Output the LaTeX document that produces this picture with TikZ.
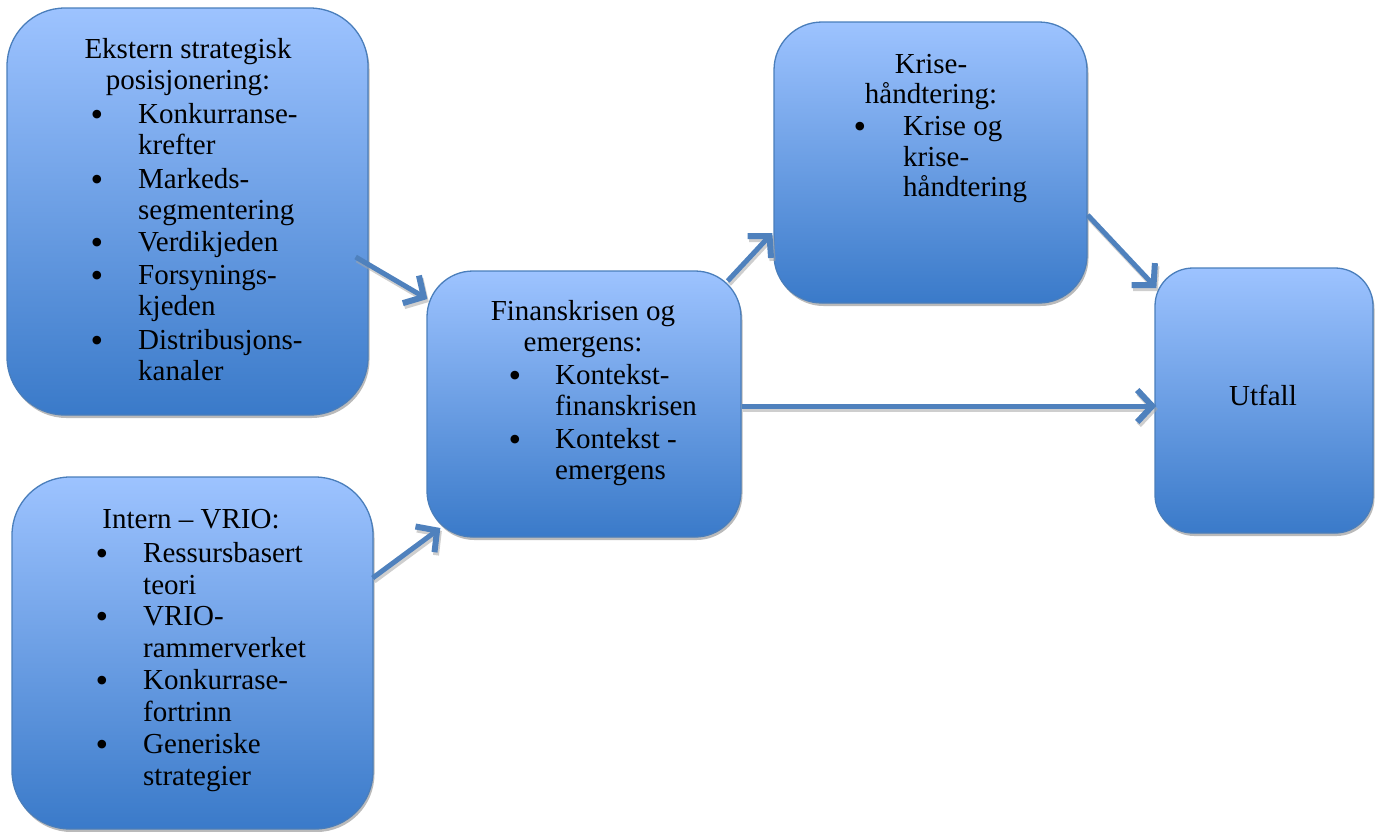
\documentclass[tikz,border=0pt]{standalone}
\usepackage{fontspec}
\setmainfont{Liberation Serif}
\usetikzlibrary{arrows.meta,shadows}
\definecolor{boxtop}{RGB}{157,195,255}
\definecolor{boxbot}{RGB}{58,122,201}
\definecolor{boxline}{RGB}{74,126,187}
\definecolor{conncol}{RGB}{79,129,189}
\begin{document}
\begin{tikzpicture}[x={(1pt,0pt)}, y={(0pt,-1pt)},
  panel/.style={draw=boxline, line width=1.3pt, top color=boxtop, bottom color=boxbot,
    inner sep=0pt, drop shadow={shadow xshift=1.5pt, shadow yshift=-3pt, fill=black!45, opacity=.6}},
  txt/.style={inner sep=0pt, font=\fontsize{29}{32}\selectfont},
  title/.style={txt, anchor=mid},
  item/.style={txt, anchor=mid west},
  bul/.style={inner sep=0pt, anchor=center, font=\fontsize{36}{36}\selectfont},
  conn/.style={draw=conncol, line width=5pt, -{Straight Barb[length=15pt,width=32pt,line width=6pt]}},
  connsh/.style={conn, draw=black!35, opacity=.55, transform canvas={xshift=1.5pt,yshift=-3pt}}]
\useasboundingbox (0,0) rectangle (1380,831);

% boxes
\node[panel, minimum width=361pt, minimum height=407pt, rounded corners=58pt] (A) at (187.5,211.5) {};
\node[panel, minimum width=361pt, minimum height=352pt, rounded corners=58pt] (B) at (192.5,653) {};
\node[panel, minimum width=314pt, minimum height=266pt, rounded corners=46pt] (C) at (584,404) {};
\node[panel, minimum width=313pt, minimum height=281pt, rounded corners=48pt] (D) at (930.5,162.5) {};
\node[panel, minimum width=218pt, minimum height=265pt, rounded corners=38pt] (E) at (1264,400.5) {};

% connector shadows
\draw[connsh] ([shift={(-13,45.5)}]A.east) -- ([shift={(1,-105)}]C.west);
\draw[connsh] ([shift={(-1,-75)}]B.east) -- ([shift={(14,124)}]C.west);
\draw[connsh] ([shift={(-14,-123)}]C.east) -- ([shift={(-1,70.5)}]D.west);
\draw[connsh] ([shift={(0,52.5)}]D.east) -- ([shift={(2,-112.5)}]E.west);
\draw[connsh] ([shift={(0,2)}]C.east) -- ([shift={(2,5.5)}]E.west);
% connectors
\draw[conn] ([shift={(-13,45.5)}]A.east) -- ([shift={(1,-105)}]C.west);
\draw[conn] ([shift={(-1,-75)}]B.east) -- ([shift={(14,124)}]C.west);
\draw[conn] ([shift={(-14,-123)}]C.east) -- ([shift={(-1,70.5)}]D.west);
\draw[conn] ([shift={(0,52.5)}]D.east) -- ([shift={(2,-112.5)}]E.west);
\draw[conn] ([shift={(0,2)}]C.east) -- ([shift={(2,5.5)}]E.west);

\begin{scope}[shift={(0,4)}]
% texts: external positioning
\node[title] (at1) at (188,52) {Ekstern strategisk};
\node[title] (at2) at (188,83) {posisjonering:};
\node[bul] (ab1) at (97,114) {•};
\node[item] (ai1) at (138,117) {Konkurranse-};
\node[item] (ai1b) at (138,148) {krefter};
\node[bul] (ab2) at (97,179) {•};
\node[item] (ai2) at (138,182) {Markeds-};
\node[item] (ai2b) at (138,213) {segmentering};
\node[bul] (ab3) at (97,242) {•};
\node[item] (ai3) at (138,245) {Verdikjeden};
\node[bul] (ab4) at (97,275) {•};
\node[item] (ai4) at (138,278) {Forsynings-};
\node[item] (ai4b) at (138,309) {kjeden};
\node[bul] (ab5) at (97,340) {•};
\node[item] (ai5) at (138,343) {Distribusjons-};
\node[item] (ai5b) at (138,374) {kanaler};

% texts: internal VRIO
\node[title] (bt1) at (191,522) {Intern – VRIO:};
\node[bul] (bb1) at (102,553) {•};
\node[item] (bi1) at (143,556) {Ressursbasert};
\node[item] (bi1b) at (143,588) {teori};
\node[bul] (bb2) at (102,616) {•};
\node[item] (bi2) at (143,619) {VRIO-};
\node[item] (bi2b) at (143,651) {rammerverket};
\node[bul] (bb3) at (102,680) {•};
\node[item] (bi3) at (143,683) {Konkurrase-};
\node[item] (bi3b) at (143,715) {fortrinn};
\node[bul] (bb4) at (102,744) {•};
\node[item] (bi4) at (143,747) {Generiske};
\node[item] (bi4b) at (143,779) {strategier};

% texts: financial crisis
\node[title] (ct1) at (583,314) {Finanskrisen og};
\node[title] (ct2) at (583,345) {emergens:};
\node[bul] (cb1) at (515,375) {•};
\node[item] (ci1) at (555,378) {Kontekst-};
\node[item] (ci1b) at (555,409) {finanskrisen};
\node[bul] (cb2) at (515,439) {•};
\node[item] (ci2) at (555,442) {Kontekst -};
\node[item] (ci2b) at (555,473) {emergens};

% texts: crisis management
\node[title] (dt1) at (931,67) {Krise-};
\node[title] (dt2) at (931,97) {håndtering:};
\node[bul] (db1) at (860,126) {•};
\node[item] (di1) at (903,129) {Krise og};
\node[item] (di1b) at (903,160) {krise-};
\node[item] (di1c) at (903,190) {håndtering};

% texts: outcome
\node[title] (et1) at (1263,399) {Utfall};
\end{scope}
\end{tikzpicture}
\end{document}
